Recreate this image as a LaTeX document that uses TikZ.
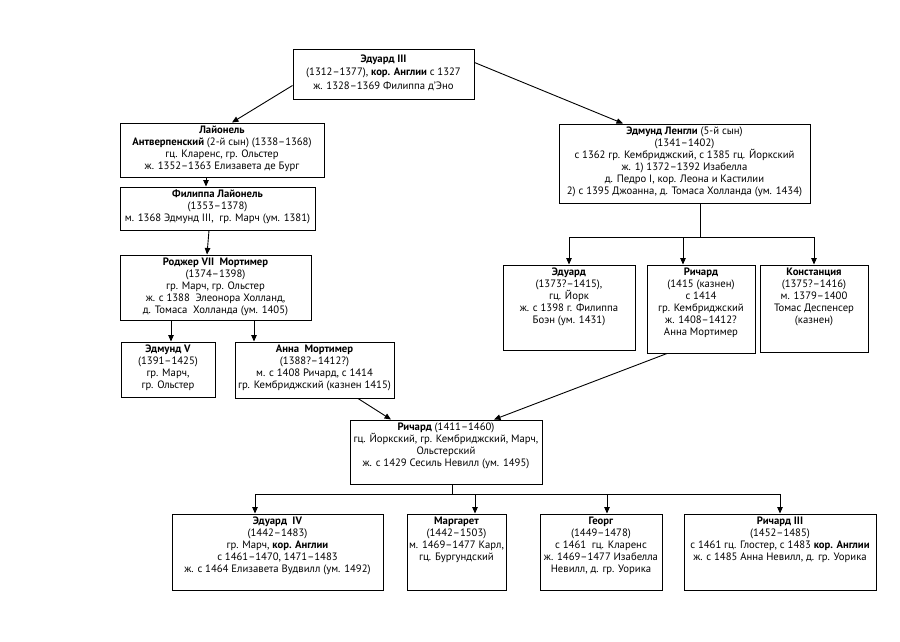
\documentclass[tikz,border=0pt]{standalone}
\usepackage{fontspec}
\setmainfont{PT Sans}
\usetikzlibrary{arrows.meta,calc}
\begin{document}
\begin{tikzpicture}[x=1pt,y=-1pt,
  box/.style={draw=black,line width=1pt,inner sep=0pt,fill=white},
  txt/.style={inner sep=0pt,align=center,anchor=north,font=\fontsize{10.7}{12}\selectfont},
  arr/.style={draw=black,line width=0.9pt,-{Triangle[length=6.5pt,width=5.5pt]}},
  ln/.style={draw=black,line width=0.9pt}]
\useasboundingbox (0,0) rectangle (900,642);
% helper: box from corners
\newcommand{\gbox}[6]{%
  \node[box,minimum width={#4-#2},minimum height={#5-#3}] (#1) at ({(#2+#4)/2},{(#3+#5)/2}) {};
  \node[txt] at ([yshift=-3.5pt]#1.north) {#6};}
\node[box,minimum width=181,minimum height=49] (e3) at (383.5,74.5) {};
\node[txt,font=\fontsize{10.7}{13.5}\selectfont] at ([yshift=-5pt]e3.north) {\textbf{Эдуард III}\\(1312–1377), \textbf{кор. Англии} с 1327\\ж. 1328–1369 Филиппа д'Эно};
\gbox{lion}{120}{123}{324}{177}{\textbf{Лайонель}\\\textbf{Антверпенский} (2-й сын) (1338–1368)\\гц. Кларенс, гр. Ольстер\\ж. 1352–1363 Елизавета де Бург}
\gbox{fil}{120}{187}{315}{230}{\textbf{Филиппа Лайонель}\\(1353–1378)\\м. 1368 Эдмунд III,\ \ гр. Марч (ум. 1381)}
\gbox{rog}{120}{255}{311}{320}{\textbf{Роджер VII\ \ Мортимер}\\(1374–1398)\\гр. Марч, гр. Ольстер\\ж. с 1388\ \ Элеонора Холланд,\\д. Томаса\ \ Холланда (ум. 1405)}
\gbox{edv}{121}{342}{215}{397}{\textbf{Эдмунд V}\\(1391–1425)\\гр. Марч,\\гр. Ольстер}
\gbox{anna}{235}{342}{394}{398}{\textbf{Анна\ \ Мортимер}\\(1388?–1412?)\\м. с 1408 Ричард, с 1414\\гр. Кембриджский (казнен 1415)}
\gbox{len}{559}{124}{810}{203}{\textbf{Эдмунд Ленгли} (5-й сын)\\(1341–1402)\\с 1362 гр. Кембриджский, с 1385 гц. Йоркский\\ж. 1) 1372–1392 Изабелла\\д. Педро I,\ кор. Леона и Кастилии\\2) с 1395 Джоанна, д. Томаса Холланда (ум. 1434)}
\gbox{edy}{503}{265}{635}{350}{\textbf{Эдуард}\\(1373?–1415),\\гц. Йорк\\ж. с 1398 г. Филиппа\\Боэн (ум. 1431)}
\gbox{ric}{647}{265}{755}{353}{\textbf{Ричард}\\(1415 (казнен)\\с 1414\\гр. Кембриджский\\ж. 1408–1412?\\Анна Мортимер}
\gbox{kon}{760}{265}{868}{352}{\textbf{Констанция}\\(1375?–1416)\\м. 1379–1400\\Томас Деспенсер\\(казнен)}
\gbox{rr}{350}{420}{542}{484}{\textbf{Ричард} (1411–1460)\\гц. Йоркский, гр. Кембриджский, Марч,\\Ольстерский\\ж. с 1429 Сесиль Невилл (ум. 1495)}
\gbox{ed4}{172}{514}{383}{590}{\textbf{Эдуард\ \ IV}\\(1442–1483)\\гр. Марч, \textbf{кор. Англии}\\с 1461–1470, 1471–1483\\ж. с 1464 Елизавета Вудвилл (ум. 1492)}
\gbox{marg}{407}{514}{506}{590}{\textbf{Маргарет}\\(1442–1503)\\м. 1469–1477 Карл,\\гц. Бургундский}
\gbox{geo}{540}{514}{662}{590}{\textbf{Георг}\\(1449–1478)\\с 1461\ \ гц. Кларенс\\ж. 1469–1477 Изабелла\\Невилл, д. гр. Уорика}
\gbox{r3}{684}{514}{876}{590}{\textbf{Ричард III}\\(1452–1485)\\с 1461 гц. Глостер, с 1483 \textbf{кор. Англии}\\ж. с 1485 Анна Невилл, д. гр. Уорика}
% connectors
\draw[arr] ([yshift=14pt]e3.south west) -- ([xshift=10pt]lion.north);
\draw[arr] ([yshift=-13pt]e3.north east) -- ([xshift=-61.5pt]len.north);
\draw[arr] ([xshift=-16pt]lion.south) -- ([xshift=-11.5pt]fil.north);
\draw[arr] ([xshift=-8.5pt]fil.south) -- ([xshift=-8.5pt]rog.north);
\draw[arr] ([xshift=-44.5pt]rog.south) -- ([xshift=3pt]edv.north);
\draw[arr] ([xshift=38.5pt]rog.south) -- ([xshift=-60.5pt]anna.north);
\draw[arr] ([xshift=43.5pt]anna.south) -- ([xshift=-55pt]rr.north);
\draw[arr] ([xshift=-34pt]ric.south) -- ([xshift=48pt]rr.north);
% right family bar
\coordinate (rbar) at ([xshift=15.5pt,yshift=-34pt]len.south);
\coordinate (ricin) at ([xshift=-18pt]ric.north);
\draw[ln] ([xshift=15.5pt]len.south) -- (rbar);
\draw[arr] (rbar) -| (edy.north);
\draw[arr] (rbar) -| (kon.north);
\draw[arr] (ricin |- rbar) -- (ricin);
% bottom bar
\coordinate (bbar) at ([xshift=6pt,yshift=-10pt]rr.south);
\coordinate (e4in) at ([xshift=-22.5pt]ed4.north);
\coordinate (mgin) at ([xshift=18.5pt]marg.north);
\coordinate (gein) at ([xshift=6pt]geo.north);
\draw[ln] ([xshift=6pt]rr.south) -- (bbar);
\draw[arr] (bbar) -| (e4in);
\draw[arr] (bbar) -| (r3.north);
\draw[arr] (mgin |- bbar) -- (mgin);
\draw[arr] (gein |- bbar) -- (gein);
\end{tikzpicture}
\end{document}
